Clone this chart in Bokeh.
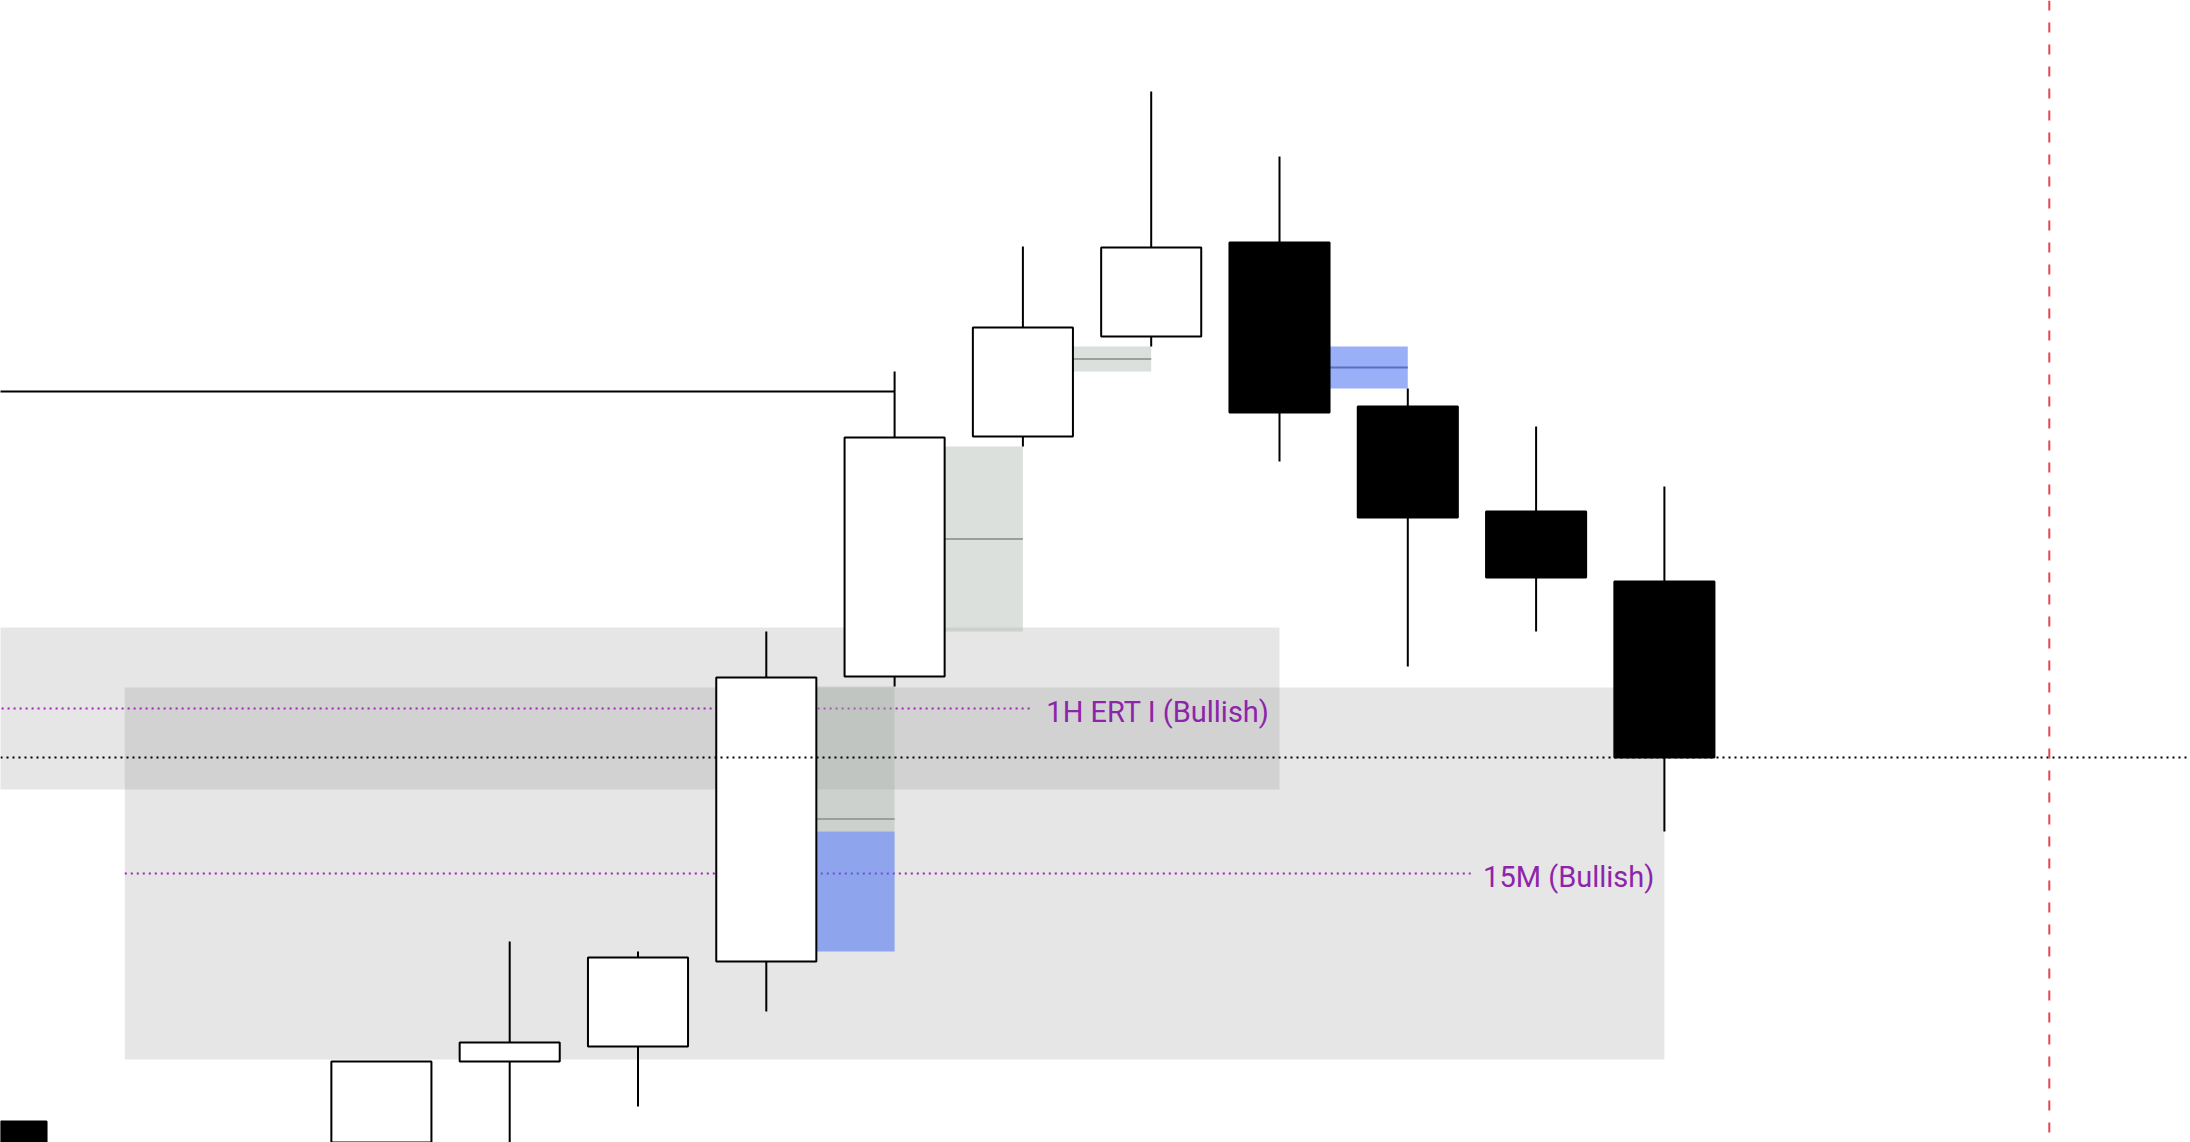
from bokeh.plotting import figure
from bokeh.models import Range1d, Span, ColumnDataSource
from bokeh.core.properties import value
from bokeh.embed import file_html
from bokeh.resources import INLINE

# ---------------- data ----------------
bar_index = [0, 3, 4, 5, 6, 7, 8, 9, 10, 11, 12, 13]
open_ = [5019.75, 5000.0, 5034.75, 5038.5, 5059.75, 5131.0, 5191.0, 5216.0, 5239.5, 5198.5, 5172.25, 5154.75]
high = [5019.75, 5034.75, 5064.75, 5062.25, 5142.25, 5207.25, 5238.5, 5277.25, 5261.0, 5203.0, 5193.5, 5178.5]
low = [4998.0, 4995.0, 5010.0, 5023.5, 5047.25, 5128.5, 5188.5, 5213.5, 5184.75, 5133.5, 5142.25, 5092.25]
close = [5005.0, 5034.75, 5039.5, 5060.75, 5130.75, 5190.75, 5218.25, 5238.25, 5197.0, 5170.75, 5155.75, 5110.75]

# higher-timeframe zones
zone_labels = ["1H ERT I (Bullish)", "15M (Bullish)"]
zone_left = [-3, 1]
zone_right = [10, 13]
zone_top = [5143.25, 5128.25]
zone_bottom = [5102.75, 5035.25]

# fair value gaps (grey-green)
fvg_bar = [6, 7, 8]
fvg_top = [5128.5, 5188.5, 5213.5]
fvg_bottom = [5092.25, 5142.25, 5207.25]
fvg_mid = [5095.375, 5165.375, 5210.375]

# blue gaps
blue_bar = [6, 10]
blue_top = [5092.25, 5213.5]
blue_bottom = [5062.25, 5203.0]
blue_mid_bar = [10]
blue_mid = [5208.25]

key_level = 5202.25
key_level_from = -3
key_level_to = 7
session_break_bar = 16

# ---------------- layout ----------------
X0, SP = -4.0, 128.3           # reference pixel of bar 0, pixels per bar
P0, PPX = 5300.0, 0.25          # price at pixel 0, price per pixel
W, H = 2190, 1142
x_start = (0 - X0) / SP
x_end = (W - X0) / SP
y_top = P0
y_bot = P0 - H * PPX

BODY = 0.78
HALF = BODY / 2

p = figure(width=W, height=H, x_range=Range1d(x_start, x_end), y_range=Range1d(y_bot, y_top),
           output_backend="svg", toolbar_location=None, x_axis_location=None, y_axis_location=None,
           min_border=0, background_fill_color="white", border_fill_color="white")
p.outline_line_color = None
p.grid.visible = False

# HTF zones
p.quad(left=zone_left, right=zone_right, top=zone_top, bottom=zone_bottom,
       fill_color="#808080", fill_alpha=0.2, line_color=None)

# zone mid dotted lines + labels
label_line_end = [8.08, 11.49]
zone_mid = [(t + b) / 2 for t, b in zip(zone_top, zone_bottom)]
p.segment(x0=zone_left, y0=zone_mid, x1=label_line_end, y1=zone_mid,
          line_color="#9C27B0", line_width=2, line_dash="2 4")
p.text(x=zone_right, y=zone_mid, text=zone_labels, text_align="right", text_baseline="middle",
       x_offset=-10, y_offset=3, text_font=value("Roboto"), text_font_size="29px",
       text_color="#8E24AA")

# FVG zones
p.quad(left=[b + HALF for b in fvg_bar], right=[b + 1 for b in fvg_bar], top=fvg_top, bottom=fvg_bottom,
       fill_color="#A8B2A8", fill_alpha=0.4, line_color=None)
p.quad(left=[b + HALF for b in blue_bar], right=[b + 1 for b in blue_bar], top=blue_top, bottom=blue_bottom,
       fill_color="#4A72F2", fill_alpha=0.56, line_color=None)
p.segment(x0=[b + HALF for b in fvg_bar], y0=fvg_mid, x1=[b + 1 for b in fvg_bar], y1=fvg_mid,
          line_color="#9A9F9A", line_width=2)
p.segment(x0=[b + HALF for b in blue_mid_bar], y0=blue_mid, x1=[b + 1 for b in blue_mid_bar], y1=blue_mid,
          line_color="#5A6EC2", line_width=2)

# key level line
p.segment(x0=[key_level_from], y0=[key_level], x1=[key_level_to], y1=[key_level],
          line_color="black", line_width=2)

# candles
up = [c >= o for o, c in zip(open_, close)]
src = ColumnDataSource(dict(
    x=bar_index, high=high, low=low,
    top=[max(o, c) for o, c in zip(open_, close)],
    bottom=[min(o, c) for o, c in zip(open_, close)],
    fill=["white" if u else "black" for u in up],
))
p.segment(x0="x", y0="high", x1="x", y1="low", source=src, line_color="black", line_width=2)
p.vbar(x="x", width=BODY, top="top", bottom="bottom", source=src,
       fill_color="fill", line_color="black", line_width=2)

# last price dotted line
p.add_layout(Span(location=close[-1], dimension="width", line_color="black",
                  line_width=2, line_dash="2 4"))
# session break
p.add_layout(Span(location=session_break_bar, dimension="height", line_color="#E84450",
                  line_width=2, line_dash="10 12"))

open("out.html", "w").write(file_html(p, INLINE))
